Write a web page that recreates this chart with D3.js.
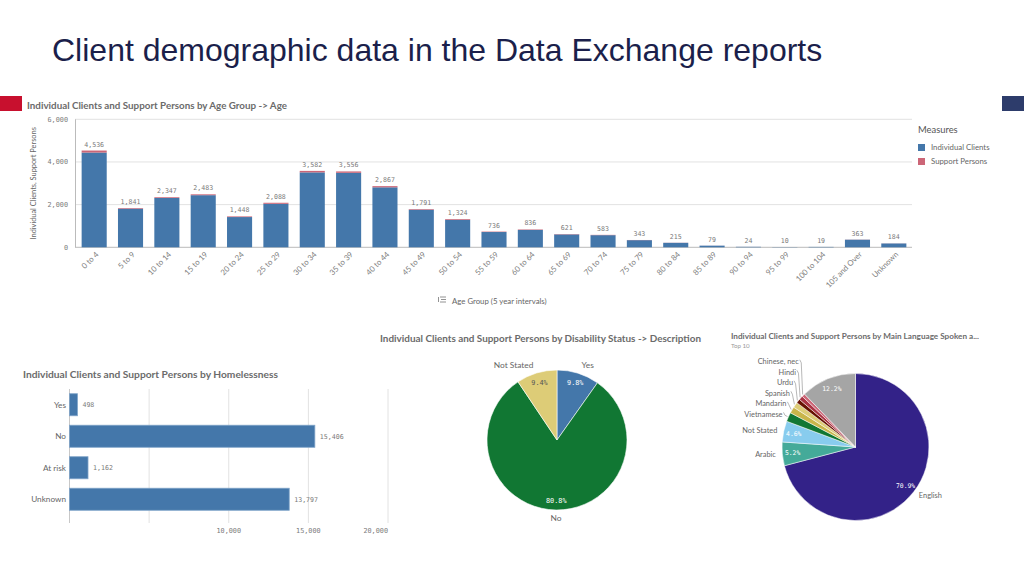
<!DOCTYPE html>
<meta charset="utf-8">
<style>
  body { margin: 0; background: #fff; }
  svg { display: block; font-family: Lato, "Open Sans", sans-serif; }
</style>
<body>
<script src="https://cdn.jsdelivr.net/npm/d3@7/dist/d3.min.js"></script>
<script>

var width = 1024,
    height = 576;

// age group chart
var ageGroups = ["0 to 4", "5 to 9", "10 to 14", "15 to 19", "20 to 24", "25 to 29", "30 to 34",
  "35 to 39", "40 to 44", "45 to 49", "50 to 54", "55 to 59", "60 to 64", "65 to 69", "70 to 74",
  "75 to 79", "80 to 84", "85 to 89", "90 to 94", "95 to 99", "100 to 104", "105 and Over", "Unknown"];
var ageClients = [4441, 1811, 2312, 2443, 1418, 2038, 3512, 3491, 2812, 1761, 1289, 716, 814,
  605, 569, 335, 210, 77, 23, 10, 19, 357, 180];
var ageSupport = [95, 30, 35, 40, 30, 50, 70, 65, 55, 30, 35, 20, 22, 16, 14, 8, 5, 2, 1, 0, 0, 6, 4];
var ageTicks = [0, 2000, 4000, 6000];
var measures = ["Individual Clients", "Support Persons"];

// homelessness chart
var homeCats = ["Yes", "No", "At risk", "Unknown"];
var homeValues = [498, 15406, 1162, 13797];
var homeTicks = [0, 5000, 10000, 15000, 20000];
var homeTickLabels = ["", "", "10,000", "15,000", "20,000"];

// disability pie
var disCats = ["Yes", "No", "Not Stated"];
var disValues = [9.8, 80.8, 9.4];

// language pie (top 10)
var langCats = ["English", "Arabic", "Not Stated", "Vietnamese", "Mandarin", "Spanish", "Urdu",
  "Hindi", "Chinese, nec", "Others"];
var langValues = [70.9, 5.2, 4.6, 2.0, 1.4, 1.2, 0.9, 0.9, 0.7, 12.2];

var blue = "#4477aa", pink = "#cc6677",
    grid = "#e2e2e2", textGray = "#666", numGray = "#7a7a7a",
    numFont = "'DejaVu Sans Mono', monospace";

var svg = d3.select("body").append("svg")
    .attr("width", width)
    .attr("height", height);

// page header
svg.append("text")
    .attr("x", 52).attr("y", 61)
    .style("font-family", "'Liberation Sans', Arial, sans-serif")
    .style("font-size", "32px")
    .style("fill", "#1b1f4b")
    .text("Client demographic data in the Data Exchange reports");

svg.append("rect").attr("x", 0).attr("y", 96).attr("width", 22).attr("height", 15).style("fill", "#c8102e");
svg.append("rect").attr("x", 1002).attr("y", 96).attr("width", 22).attr("height", 15).style("fill", "#2d3c6b");

function title(x, y, w, size, txt) {
  svg.append("text")
      .attr("x", x).attr("y", y)
      .attr("textLength", w)
      .attr("lengthAdjust", "spacingAndGlyphs")
      .style("font-size", size + "px")
      .style("font-weight", "bold")
      .style("fill", "#6b6b6b")
      .text(txt);
}

// ---------- age group bars ----------
title(27, 109, 260, 9, "Individual Clients and Support Persons by Age Group -> Age");

var x = d3.scaleBand().domain(ageGroups).range([76, 912]).paddingInner(0.31).paddingOuter(0.155);
var y = d3.scaleLinear().domain([0, 6000]).range([247.3, 119.3]);

var ga = svg.append("g");
ga.selectAll(".grid").data(ageTicks).enter().append("line")
    .attr("x1", 75).attr("x2", 912)
    .attr("y1", d => y(d)).attr("y2", d => y(d))
    .style("stroke", d => d === 0 ? "#bbb" : grid);
ga.append("line").attr("x1", 75.5).attr("x2", 75.5).attr("y1", y(6000)).attr("y2", y(0)).style("stroke", "#bbb");

ga.selectAll(".ytick").data(ageTicks).enter().append("text")
    .attr("x", 68).attr("y", d => y(d)).attr("dy", "0.35em")
    .attr("text-anchor", "end")
    .style("font-family", numFont).style("font-size", "6.8px").style("fill", numGray)
    .text(d => d3.format(",")(d));

svg.append("text")
    .attr("transform", "translate(36," + ((y(0) + y(6000)) / 2) + ") rotate(-90)")
    .attr("text-anchor", "middle")
    .style("font-size", "7.4px").style("fill", textGray)
    .text("Individual Clients, Support Persons");

var stacked = d3.stack().keys([0, 1])(ageGroups.map((g, i) => ({ 0: ageClients[i], 1: ageSupport[i] })));
stacked.forEach(function(layer, k) {
  ga.selectAll(".layer" + k).data(layer).enter().append("rect")
      .attr("x", (d, i) => x(ageGroups[i]))
      .attr("width", x.bandwidth())
      .attr("y", d => y(d[1]))
      .attr("height", d => y(d[0]) - y(d[1]))
      .style("fill", k === 0 ? blue : pink);
});

ga.selectAll(".val").data(ageGroups).enter().append("text")
    .attr("x", d => x(d) + x.bandwidth() / 2)
    .attr("y", (d, i) => y(ageClients[i] + ageSupport[i]) - 4)
    .attr("text-anchor", "middle")
    .style("font-family", numFont).style("font-size", "6.6px").style("fill", numGray)
    .text((d, i) => d3.format(",")(ageClients[i] + ageSupport[i]));

ga.selectAll(".xlab").data(ageGroups).enter().append("text")
    .attr("transform", d => "translate(" + (x(d) + x.bandwidth() / 2 + 3) + ",253) rotate(-45)")
    .attr("text-anchor", "end")
    .attr("dy", "0.35em")
    .style("font-size", "7.8px").style("fill", "#808080")
    .text(d => d);

// axis title with small icon
var icon = svg.append("g").attr("transform", "translate(438,297)").style("stroke", "#777").style("stroke-width", 0.8);
[0, 2.5, 5].forEach(function(o, i) {
  icon.append("line").attr("x1", i === 1 ? 3 : 2).attr("x2", 8).attr("y1", o).attr("y2", o);
});
icon.append("line").attr("x1", 0.5).attr("x2", 0.5).attr("y1", 0).attr("y2", 5);
svg.append("text")
    .attr("x", 452).attr("y", 303.5)
    .style("font-size", "7.8px").style("fill", textGray)
    .text("Age Group (5 year intervals)");

// legend
svg.append("text").attr("x", 918).attr("y", 133)
    .style("font-size", "9.4px").style("fill", "#555").text("Measures");
var lg = svg.selectAll(".leg").data(measures).enter().append("g")
    .attr("transform", (d, i) => "translate(918," + (144 + i * 14) + ")");
lg.append("rect").attr("width", 7).attr("height", 7).style("fill", (d, i) => i === 0 ? blue : pink);
lg.append("text").attr("x", 13).attr("y", 6.3)
    .style("font-size", "7.8px").style("fill", textGray).text(d => d);

// ---------- homelessness bars ----------
title(23, 378, 255, 9, "Individual Clients and Support Persons by Homelessness");

var hx = d3.scaleLinear().domain([0, 20000]).range([69.5, 388]);
var hy = d3.scaleBand().domain(homeCats).range([389, 515]).paddingInner(0.3).paddingOuter(0.15);

var gh = svg.append("g");
gh.selectAll(".hgrid").data(homeTicks).enter().append("line")
    .attr("x1", d => hx(d)).attr("x2", d => hx(d))
    .attr("y1", 389).attr("y2", 523)
    .style("stroke", (d, i) => i === 0 ? "#c8c8c8" : grid);

gh.selectAll(".hbar").data(homeValues).enter().append("rect")
    .attr("x", hx(0))
    .attr("y", (d, i) => hy(homeCats[i]))
    .attr("width", d => hx(d) - hx(0))
    .attr("height", hy.bandwidth())
    .style("fill", blue)
    .style("stroke", "#7fa3c8").style("stroke-width", 0.8);

gh.selectAll(".hcat").data(homeCats).enter().append("text")
    .attr("x", 66).attr("y", d => hy(d) + hy.bandwidth() / 2).attr("dy", "0.35em")
    .attr("text-anchor", "end")
    .style("font-size", "8.2px").style("fill", textGray)
    .text(d => d);

gh.selectAll(".hval").data(homeValues).enter().append("text")
    .attr("x", d => hx(d) + 5).attr("y", (d, i) => hy(homeCats[i]) + hy.bandwidth() / 2).attr("dy", "0.35em")
    .style("font-family", numFont).style("font-size", "6.6px").style("fill", numGray)
    .text(d => d3.format(",")(d));

gh.selectAll(".htick").data(homeTicks).enter().append("text")
    .attr("x", d => hx(d)).attr("y", 533)
    .attr("text-anchor", (d, i) => i === homeTicks.length - 1 ? "end" : "middle")
    .style("font-family", numFont).style("font-size", "6.8px").style("fill", numGray)
    .text((d, i) => homeTickLabels[i]);

// ---------- disability pie ----------
title(380, 342, 321, 9, "Individual Clients and Support Persons by Disability Status -> Description");

var disColors = ["#4477aa", "#117733", "#ddcc77"];
var dcx = 557, dcy = 440, dr = 70;
var dPie = d3.pie().sort(null)(disValues);
var dArc = d3.arc().innerRadius(0).outerRadius(dr);
var gd = svg.append("g").attr("transform", "translate(" + dcx + "," + dcy + ")");
gd.selectAll("path").data(dPie).enter().append("path")
    .attr("d", dArc)
    .style("fill", (d, i) => disColors[i])
    .style("stroke", "#fff").style("stroke-width", 0.6);

function mid(d) { return (d.startAngle + d.endAngle) / 2; }

gd.selectAll(".din").data(dPie).enter().append("text")
    .attr("x", d => Math.sin(mid(d)) * dr * 0.86)
    .attr("y", d => -Math.cos(mid(d)) * dr * 0.86)
    .attr("dy", "0.35em").attr("text-anchor", "middle")
    .style("font-family", numFont).style("font-size", "6.8px")
    .style("fill", (d, i) => i === 2 ? "#555" : "#fff")
    .text(d => d3.format(".1f")(d.data) + "%");

gd.selectAll(".dout").data(dPie).enter().append("text")
    .attr("x", d => Math.sin(mid(d)) * (dr + 11))
    .attr("y", d => -Math.cos(mid(d)) * (dr + 11))
    .attr("dy", d => Math.cos(mid(d)) < -0.5 ? "0" : "0.6em")
    .attr("text-anchor", d => Math.abs(Math.sin(mid(d))) < 0.05 ? "middle" : (Math.sin(mid(d)) > 0 ? "start" : "end"))
    .style("font-size", "8.4px").style("fill", textGray)
    .text((d, i) => disCats[i]);

// ---------- language pie ----------
title(731, 339, 248, 8, "Individual Clients and Support Persons by Main Language Spoken a...");
svg.append("text").attr("x", 731).attr("y", 348)
    .style("font-size", "6.2px").style("fill", "#999").text("Top 10");

var langColors = ["#332288", "#44aa99", "#88ccee", "#117733", "#c9b54a", "#ddcc77", "#661100",
  "#aa3344", "#cc6677", "#a5a5a5"];
var lcx = 855.5, lcy = 447, lr = 73.5;
var lPie = d3.pie().sort(null)(langValues);
var lArc = d3.arc().innerRadius(0).outerRadius(lr);
var gl = svg.append("g").attr("transform", "translate(" + lcx + "," + lcy + ")");
gl.selectAll("path").data(lPie).enter().append("path")
    .attr("d", lArc)
    .style("fill", (d, i) => langColors[i])
    .style("stroke", "#fff").style("stroke-width", 0.5);

// percentage labels only on the larger slices
gl.selectAll(".lin").data(lPie.filter(d => d.data >= 4)).enter().append("text")
    .attr("x", d => Math.sin(mid(d)) * lr * 0.86)
    .attr("y", d => -Math.cos(mid(d)) * lr * 0.86)
    .attr("dy", "0.35em").attr("text-anchor", "middle")
    .style("font-family", numFont).style("font-size", "6.4px").style("fill", "#fff")
    .text(d => d3.format(".1f")(d.data) + "%");

// outside labels, pushed up when they collide
var outer = lPie.map(function(d, i) {
  var a = mid(d);
  return { i: i, a: a, x: Math.sin(a) * 80, y: -Math.cos(a) * 80, name: langCats[i], small: d.data < 4 };
}).filter(l => l.name !== "Others");
var prevY = null;
outer.forEach(function(l) {
  if (l.x < 0 && l.i > 0) {
    if (prevY !== null && l.y > prevY - 10.5) l.y = prevY - 10.5;
    prevY = l.y;
  }
});
gl.selectAll(".lout").data(outer).enter().append("text")
    .attr("x", d => d.x).attr("y", d => d.y).attr("dy", "0.35em")
    .attr("text-anchor", d => d.x < 0 ? "end" : "start")
    .style("font-size", "7.4px").style("fill", textGray)
    .text(d => d.name);
gl.selectAll(".lead").data(outer.filter(d => d.small)).enter().append("polyline")
    .attr("points", function(d) {
      return [[d.x + 1, d.y - 2], [d.x + 2.5, d.y + 1], [Math.sin(d.a) * (lr + 1), -Math.cos(d.a) * (lr + 1)]].join(" ");
    })
    .style("fill", "none").style("stroke", "#888").style("stroke-width", 0.6);

</script>
</body>
